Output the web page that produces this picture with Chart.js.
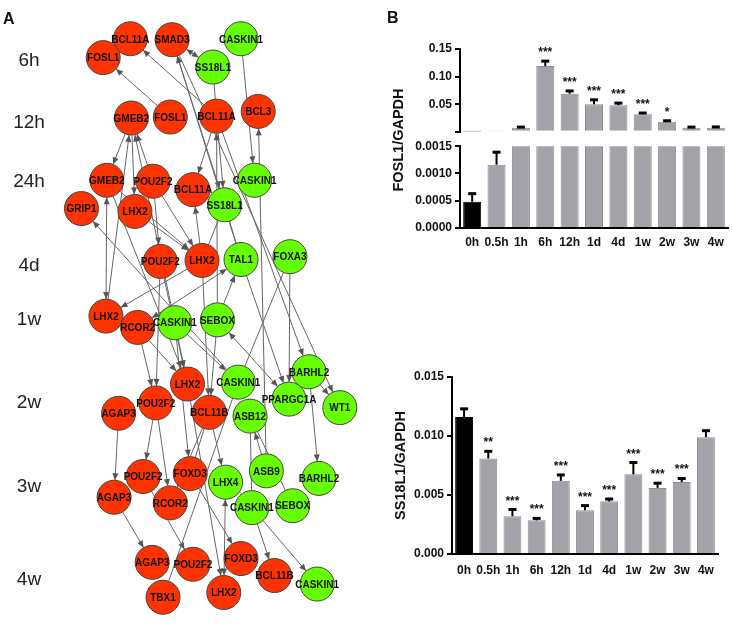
<!DOCTYPE html>
<html>
<head>
<meta charset="utf-8">
<script src="https://cdn.jsdelivr.net/npm/chart.js@4.4.0/dist/chart.umd.min.js"></script>
<style>
  body { margin: 0; background: #fff; font-family: "Liberation Sans", Arial, sans-serif; }
  #wrap { position: relative; width: 732px; height: 636px; overflow: hidden; }
  .box { position: absolute; }
  .panel { position: absolute; font-weight: bold; font-size: 16px; color: #111; }
  #fosl1Title { position: absolute; left: 338px; top: 131px; width: 120px; height: 18px; line-height: 18px;
    text-align: center; font-weight: bold; font-size: 14.5px; color: #111; transform: rotate(-90deg); }
</style>
</head>
<body>
<div id="wrap">
  <div class="box" style="left:0;top:0;width:385px;height:636px"><canvas id="network"></canvas></div>
  <div class="box" style="left:390px;top:136px;width:342px;height:124px"><canvas id="foslLow"></canvas></div>
  <div class="box" style="left:390px;top:0;width:342px;height:142px"><canvas id="foslHigh"></canvas></div>
  <div class="box" style="left:390px;top:360px;width:342px;height:276px"><canvas id="ss18l1"></canvas></div>
  <div class="panel" style="left:3px;top:10px">A</div>
  <div class="panel" style="left:387px;top:9px">B</div>
  <div id="fosl1Title">FOSL1/GAPDH</div>
</div>
<script>
// ---- panel A: network data ----
let rowLabels = ['6h', '12h', '24h', '4d', '1w', '2w', '3w', '4w'];
let rowY = [45, 111, 174, 263, 320, 408, 497, 595];

let nodeNames = ['BCL11A', 'SMAD3', 'FOSL1', 'SS18L1', 'CASKIN1',
  'GMEB2', 'FOSL1', 'BCL11A', 'BCL3',
  'CASKIN1', 'SS18L1', 'BCL11A', 'GMEB2', 'POU2F2', 'GRIP1', 'LHX2',
  'POU2F2', 'LHX2', 'TAL1', 'FOXA3',
  'LHX2', 'RCOR2', 'CASKIN1', 'SEBOX',
  'CASKIN1', 'BARHL2', 'LHX2', 'PPARGC1A', 'WT1', 'POU2F2', 'AGAP3', 'BCL11B', 'ASB12',
  'ASB9', 'BARHL2', 'POU2F2', 'FOXD3', 'LHX4', 'AGAP3', 'RCOR2', 'CASKIN1', 'SEBOX',
  'AGAP3', 'POU2F2', 'FOXD3', 'BCL11B', 'CASKIN1', 'TBX1', 'LHX2'];
let nodeX = [124, 170, 94, 215, 246,
  125, 168, 219, 265,
  261, 228, 193, 98, 149, 70, 129,
  157, 203, 246, 300,
  97, 132, 173, 220,
  243, 321, 187, 299, 355, 152, 111, 211, 256,
  274, 332, 138, 190, 229, 106, 168, 258, 303,
  148, 193, 246, 283, 330, 160, 227];
let nodeY = [22, 23, 42, 52, 22,
  106, 105, 104, 99,
  172, 198, 182, 172, 173, 202, 205,
  258, 257, 256, 253,
  316, 328, 323, 320,
  386, 375, 388, 404, 413, 408, 419, 418, 422,
  480, 488, 486, 483, 492, 508, 514, 519, 517,
  577, 579, 573, 591, 600, 614, 609];
// r = down-regulated (red), g = up-regulated (green)
let nodeKind = ['r', 'r', 'r', 'g', 'g',
  'r', 'r', 'r', 'r',
  'g', 'g', 'r', 'r', 'r', 'r', 'r',
  'r', 'r', 'g', 'g',
  'r', 'r', 'g', 'g',
  'g', 'g', 'r', 'g', 'g', 'r', 'r', 'r', 'g',
  'g', 'g', 'r', 'r', 'g', 'r', 'r', 'g', 'g',
  'r', 'r', 'r', 'r', 'g', 'r', 'r'];

// [from, to, arrows]  1 = arrow at "to", 2 = both ends, 0 = plain line
let edges = [
  [6, 2, 1], [7, 0, 1], [1, 3, 2], [1, 10, 2], [18, 1, 1], [1, 28, 1], [3, 7, 0],
  [4, 9, 1], [33, 8, 1], [5, 12, 1], [5, 15, 1], [13, 5, 1], [20, 5, 1], [22, 5, 1],
  [7, 11, 1], [7, 10, 1], [23, 7, 1], [7, 25, 1], [12, 20, 2], [15, 17, 1], [12, 17, 1],
  [13, 17, 1], [13, 16, 1], [17, 11, 1], [10, 17, 0], [10, 18, 0], [24, 14, 1],
  [17, 20, 1], [21, 18, 2], [23, 18, 1], [18, 27, 1], [19, 27, 1], [19, 24, 0],
  [22, 24, 1], [22, 26, 1], [21, 26, 1], [23, 27, 2], [25, 28, 1], [25, 34, 1],
  [16, 29, 1], [16, 26, 1], [17, 31, 1], [12, 26, 1], [21, 29, 1], [30, 38, 1],
  [38, 42, 1], [29, 35, 1], [29, 39, 1], [35, 43, 1], [36, 44, 1], [31, 37, 1],
  [33, 32, 1], [32, 41, 0], [32, 40, 0], [37, 48, 2], [40, 45, 1], [40, 46, 1],
  [47, 24, 0], [31, 39, 1], [26, 48, 1], [23, 31, 1], [22, 36, 1], [36, 31, 0]
];

// ---- panel B: qPCR data ----
let timeLabels = ['0h', '0.5h', '1h', '6h', '12h', '1d', '4d', '1w', '2w', '3w', '4w'];
let fosl1Mean = [0.00048, 0.00116, 0.0075, 0.119, 0.069, 0.050, 0.048, 0.032, 0.018, 0.0075, 0.0075];
let fosl1Sem = [0.00015, 0.00023, 0.001, 0.009, 0.005, 0.008, 0.004, 0.002, 0.002, 0.001, 0.0013];
let fosl1Sig = ['', '', '', '***', '***', '***', '***', '***', '*', '', ''];
let ss18l1Mean = [0.0116, 0.0081, 0.0032, 0.00285, 0.0062, 0.0037, 0.00446, 0.00675, 0.0056, 0.0061, 0.0099];
let ss18l1Sem = [0.0007, 0.0006, 0.00057, 0.00017, 0.0005, 0.0004, 0.0002, 0.001, 0.0004, 0.0003, 0.00055];
let ss18l1Sig = ['', '**', '***', '***', '***', '***', '***', '***', '***', '***', ''];

const FONT = '"Liberation Sans", Arial, sans-serif';
const NODE_R = 17;

Chart.defaults.font.family = FONT;
Chart.defaults.color = '#111';

// edges + arrowheads under the nodes, gene names and time rows on top
const edgePlugin = {
  id: 'edges',
  beforeDatasetsDraw(chart) {
    const { ctx, scales } = chart;
    const px = i => [scales.x.getPixelForValue(nodeX[i]), scales.y.getPixelForValue(nodeY[i])];
    ctx.save();
    ctx.strokeStyle = '#666';
    ctx.fillStyle = '#555';
    ctx.lineWidth = 1;
    edges.forEach(([a, b, t]) => {
      const [x1, y1] = px(a);
      const [x2, y2] = px(b);
      const len = Math.hypot(x2 - x1, y2 - y1);
      const dx = (x2 - x1) / len, dy = (y2 - y1) / len;
      const sx = x1 + dx * NODE_R, sy = y1 + dy * NODE_R;
      const ex = x2 - dx * NODE_R, ey = y2 - dy * NODE_R;
      ctx.beginPath();
      ctx.moveTo(sx, sy);
      ctx.lineTo(ex, ey);
      ctx.stroke();
      if (t >= 1) arrow(ctx, ex, ey, dx, dy);
      if (t === 2) arrow(ctx, sx, sy, -dx, -dy);
    });
    ctx.restore();
  },
  afterDatasetsDraw(chart) {
    const { ctx, scales } = chart;
    ctx.save();
    ctx.font = 'bold 10px ' + FONT;
    ctx.fillStyle = '#111';
    ctx.textAlign = 'center';
    ctx.textBaseline = 'middle';
    nodeNames.forEach((n, i) => {
      ctx.fillText(n, scales.x.getPixelForValue(nodeX[i]), scales.y.getPixelForValue(nodeY[i]) + 1);
    });
    ctx.font = '19px ' + FONT;
    ctx.fillStyle = '#222';
    rowLabels.forEach((l, i) => ctx.fillText(l, 29, scales.y.getPixelForValue(rowY[i])));
    ctx.restore();
  }
};

function arrow(ctx, x, y, dx, dy) {
  const L = 7, W = 3;
  ctx.beginPath();
  ctx.moveTo(x, y);
  ctx.lineTo(x - dx * L - dy * W, y - dy * L + dx * W);
  ctx.lineTo(x - dx * L + dy * W, y - dy * L - dx * W);
  ctx.closePath();
  ctx.fill();
}

new Chart(document.getElementById('network'), {
  type: 'scatter',
  data: {
    datasets: [{
      data: nodeX.map((x, i) => ({ x: x, y: nodeY[i] })),
      pointRadius: NODE_R,
      pointBackgroundColor: nodeKind.map(k => k === 'r' ? '#ff3300' : '#66ff00'),
      pointBorderColor: '#444',
      pointBorderWidth: 1,
      clip: false
    }]
  },
  options: {
    responsive: true,
    maintainAspectRatio: false,
    animation: false,
    events: [],
    layout: { padding: 0 },
    plugins: { legend: { display: false }, tooltip: { enabled: false } },
    scales: {
      x: { type: 'linear', min: 0, max: 385, display: false },
      y: { type: 'linear', min: 0, max: 636, reverse: true, display: false }
    }
  },
  plugins: [edgePlugin]
});

// error bars (upward only) and significance stars
const errPlugin = {
  id: 'errbars',
  afterDatasetsDraw(chart, args, opts) {
    const { ctx } = chart;
    const y = chart.scales.y;
    const meta = chart.getDatasetMeta(0);
    ctx.save();
    meta.data.forEach((bar, i) => {
      const m = opts.mean[i], s = opts.sem[i];
      if (m > y.max) return; // bar runs past the axis break
      const yBar = y.getPixelForValue(m);
      if (y.bottom - yBar < 2) return; // too small to show on this segment
      const yTop = y.getPixelForValue(m + s);
      ctx.strokeStyle = '#000';
      ctx.lineWidth = 2;
      ctx.beginPath();
      ctx.moveTo(bar.x, yBar);
      ctx.lineTo(bar.x, yTop);
      ctx.stroke();
      ctx.lineWidth = 3;
      ctx.beginPath();
      ctx.moveTo(bar.x - 4, yTop);
      ctx.lineTo(bar.x + 4, yTop);
      ctx.stroke();
      if (opts.sig[i]) {
        ctx.fillStyle = '#111';
        ctx.font = 'bold 12px ' + FONT;
        ctx.textAlign = 'center';
        ctx.textBaseline = 'alphabetic';
        ctx.fillText(opts.sig[i], bar.x, yTop - 5);
      }
    });
    ctx.restore();
  }
};

function barChart(id, values, sem, sig, yOpts, layout, showX, axisWidth, labelPad) {
  return new Chart(document.getElementById(id), {
    type: 'bar',
    data: {
      labels: timeLabels,
      datasets: [{
        data: values,
        backgroundColor: values.map((v, i) => i === 0 ? '#000' : '#a2a2a8'),
        borderColor: values.map((v, i) => i === 0 ? '#000' : '#8c8c92'),
        borderWidth: 1,
        barPercentage: 0.74,
        categoryPercentage: 1,
        clip: 0
      }]
    },
    options: {
      responsive: true,
      maintainAspectRatio: false,
      animation: false,
      events: [],
      layout: { padding: layout },
      plugins: {
        legend: { display: false },
        tooltip: { enabled: false },
        errbars: { mean: values, sem: sem, sig: sig }
      },
      scales: {
        x: {
          display: showX,
          grid: { display: false, drawTicks: false },
          border: { color: '#000', width: 2 },
          ticks: { padding: labelPad, color: '#111', autoSkip: false, maxRotation: 0, minRotation: 0,
            font: { size: 12, weight: 'bold' } },
          afterFit: s => { if (showX) s.height = 22; }
        },
        y: Object.assign({
          grid: { drawOnChartArea: false, drawTicks: true, tickLength: 5, color: '#000', lineWidth: 2 },
          border: { color: '#000', width: 2 },
          afterFit: s => { s.width = axisWidth; }
        }, yOpts)
      }
    },
    plugins: [errPlugin]
  });
}

// FOSL1: upper segment of the broken axis
barChart('foslHigh', fosl1Mean, fosl1Sem, fosl1Sig, {
  min: 0, max: 0.15,
  ticks: { stepSize: 0.05, padding: 3, color: '#111', font: { size: 12, weight: 'bold' },
    callback: v => v === 0 ? '' : v.toFixed(2) }
}, { top: 49, right: 4, bottom: 5, left: 0 }, false, 70, 7);

// FOSL1: lower segment
barChart('foslLow', fosl1Mean, fosl1Sem, fosl1Sig, {
  min: 0, max: 0.0015,
  ticks: { stepSize: 0.0005, padding: 3, color: '#111', font: { size: 12, weight: 'bold' },
    callback: v => v.toFixed(4) }
}, { top: 9, right: 4, bottom: 10, left: 0 }, true, 70, 7);

// SS18L1
barChart('ss18l1', ss18l1Mean, ss18l1Sem, ss18l1Sig, {
  min: 0, max: 0.015,
  title: { display: true, text: 'SS18L1/GAPDH', color: '#111', font: { size: 14.5, weight: 'bold' }, padding: 0 },
  ticks: { stepSize: 0.005, padding: 3, color: '#111', font: { size: 12, weight: 'bold' },
    callback: v => v.toFixed(3) }
}, { top: 17, right: 14, bottom: 60, left: 2 }, true, 60, 9);
</script>
</body>
</html>
